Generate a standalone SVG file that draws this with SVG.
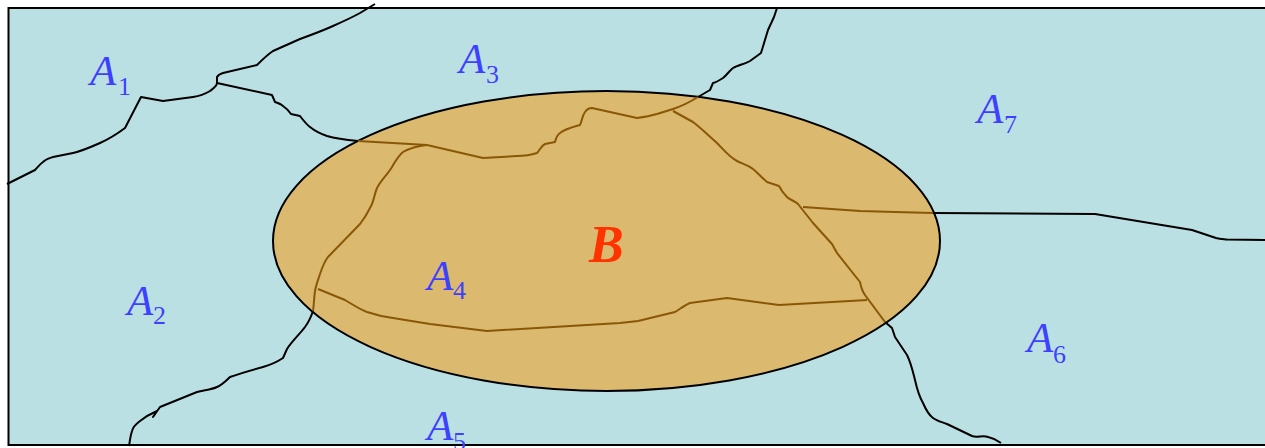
<svg xmlns="http://www.w3.org/2000/svg" width="1265" height="448" viewBox="0 0 1265 448">
<style>
.b{fill:none;stroke:#000;stroke-width:2;stroke-linejoin:round;stroke-linecap:butt}
.r{fill:none;stroke:#8A5706;stroke-width:2;stroke-linejoin:round;stroke-linecap:butt}
.l{font-family:"Liberation Serif",serif;font-style:italic;font-size:43px;fill:#3E40FF}
.s{font-family:"Liberation Serif",serif;font-size:26px;fill:#3E40FF}
</style>
<rect x="0" y="0" width="1265" height="448" fill="#fff"/>
<rect id="frame" x="8.500" y="8" width="1270" height="437" fill="#BBE0E3" stroke="#000" stroke-width="2"/>
<ellipse id="B-region" cx="606.500" cy="241" rx="333.500" ry="150" fill="#DBB96F" stroke="#000" stroke-width="2"/>
<g id="boundaries">
<path class="b" d="M7 184L35 170C38 167 40 164 43 162C46 159 50 158 53 157L73 153C82 151 91 147 100 143C109 139 117 134 125 128L141 97L163 101L193 97C200 96 205 94 210 91C214 88 217 86 217 83L217 77C218 75 220 74 223 73L257 65C262 60 267 55 273 51C282 47 291 43 300 39C311 35 322 31 333 26C342 22 351 18 360 13L375 4"/>
<path class="b" d="M217 83L272 95L275 102C278 103 281 104 283 106C286 108 289 111 291 114L300 116C303 120 306 124 310 127C315 131 321 134 327 136C337 139 347 140 358 141"/>
<path class="b" d="M698 97L710 90L713 83C717 82 720 80 723 78C727 75 729 71 733 68C738 65 745 64 750 61L761 53L768 30L774 17L777 8"/>
<path class="b" d="M885 322L892 328L895 337L907 355C911 363 913 372 915 380C917 389 919 396 923 403C926 410 929 415 933 418C937 421 942 422 947 424L972 436C977 438 983 435 988 437C993 438 997 440 1001 443"/>
<path class="b" d="M933 213L1095 214L1192 230L1216 238C1220 239 1222 239 1227 239.500L1265 240"/>
<path class="b" d="M313 311C311 317 308 323 305 327C299 335 292 341 287 349L283 358C277 362 270 365 263 367C252 370 241 373 230 377C226 381 222 385 217 387C211 390 203 390 197 392L160 407L153 417L157 411C150 414 145 417 140 421C136 424 133 427 132 431C130 437 130 441 129 446"/>
<path class="r" d="M358 141L427 145L483 158L517 156C524 156 531 155 537 153C540 150 541 146 545 144L555 142C556 138 557 135 560 133C565 129 573 127 580 125C582 121 582 116 585 112C587 109 589 108 592 108L637 118C644 117 650 116 657 114L673 109C682 106 690 102 698 97"/>
<path class="r" d="M673 111L693 122C702 129 709 136 717 143C723 149 729 157 737 161C743 164 748 165 753 169C758 173 762 178 767 182L779 186C781 190 784 194 787 197C790 200 795 201 798 204L813 223L832 244L837 253L860 282C861 287 862 291 865 295L885 322"/>
<path class="r" d="M803 207L860 211L895 212L933 213"/>
<path class="r" d="M427 145C418 146 410 148 403 152C398 156 395 162 392 167C388 174 381 180 377 188C374 195 374 202 370 208C367 214 364 219 360 224L328 257C324 262 322 268 320 274C318 280 316 285 315 291C314 298 314 304 313 311"/>
<path class="r" d="M318 289L345 300C352 304 359 309 367 312C376 315 385 317 393 318C405 320 418 322 430 324L487 331L620 323L638 321L675 312C680 309 685 305 690 303L727 298L779 305L850 301L867 300"/>
</g>
<g id="label-A1"><text class="l" x="90" y="85">A</text><text class="s" x="118" y="95">1</text></g>
<g id="label-A2"><text class="l" x="127" y="315">A</text><text class="s" x="153" y="324">2</text></g>
<g id="label-A3"><text class="l" x="459" y="73">A</text><text class="s" x="486" y="83">3</text></g>
<g id="label-A4"><text class="l" x="427" y="290">A</text><text class="s" x="453" y="299">4</text></g>
<g id="label-A5"><text class="l" x="427" y="440">A</text><text class="s" x="453" y="450">5</text></g>
<g id="label-A6"><text class="l" x="1027" y="352">A</text><text class="s" x="1053" y="363">6</text></g>
<g id="label-A7"><text class="l" x="977" y="123">A</text><text class="s" x="1004" y="133">7</text></g>
<g id="label-B"><text x="589" y="262" font-family="'Liberation Serif',serif" font-style="italic" font-weight="bold" font-size="52" fill="#FF3300">B</text></g>
</svg>
